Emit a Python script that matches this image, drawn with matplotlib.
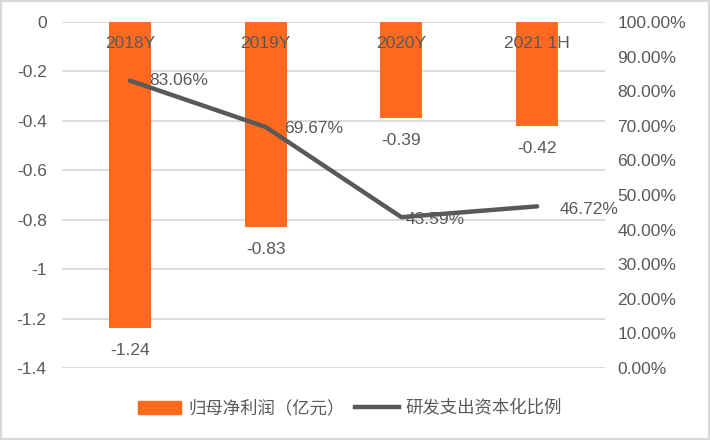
import matplotlib
matplotlib.use("Agg")
import matplotlib.pyplot as plt
from matplotlib.patches import Rectangle
from matplotlib.lines import Line2D

plt.rcParams['font.family'] = ['Liberation Sans', 'Noto Sans CJK SC', 'DejaVu Sans']

categories = ["2018Y", "2019Y", "2020Y", "2021 1H"]
profit = [-1.24, -0.83, -0.39, -0.42]
ratio = [83.06, 69.67, 43.59, 46.72]
left_ticks = [0, -0.2, -0.4, -0.6, -0.8, -1, -1.2, -1.4]
right_ticks = [0, 10, 20, 30, 40, 50, 60, 70, 80, 90, 100]

txt = '#595959'
bar_c = '#FF6A1F'
line_c = '#595959'
grid_c = '#D9D9D9'

fig = plt.figure(figsize=(7.1, 4.4), dpi=100)
ax = fig.add_axes([62/710, 1-368/440, (605-62)/710, (368-22)/440])
x = list(range(len(categories)))
ax.bar(x, profit, width=0.31, color=bar_c, zorder=2)
ax.set_xlim(-0.5, 3.5)
ax.set_ylim(-1.4, 0)
ax.set_yticks(left_ticks)
ax.set_yticklabels([f"{t:g}" for t in left_ticks])
ax.yaxis.grid(True, color=grid_c, linewidth=1.3, zorder=0)
ax.set_axisbelow(True)
ax.set_xticks([])
for s in ax.spines.values():
    s.set_visible(False)
ax.tick_params(axis='y', length=0, labelsize=12.5, colors=txt, pad=11)

for xi, c in zip(x, categories):
    ax.text(xi, -0.085, c, ha='center', va='center', fontsize=12.5, color=txt, zorder=5)
for xi, v in zip(x, profit):
    ax.annotate(f"{v:g}", (xi, v), xytext=(0, -16), textcoords='offset points',
                ha='center', va='center', fontsize=12.5, color=txt)

ax2 = ax.twinx()
ax2.plot(x, ratio, color=line_c, linewidth=3.2, solid_capstyle='round', zorder=3)
ax2.set_ylim(0, 100)
ax2.set_yticks(right_ticks)
ax2.set_yticklabels([f"{t:.2f}%" for t in right_ticks])
for s in ax2.spines.values():
    s.set_visible(False)
ax2.tick_params(axis='y', length=0, labelsize=12.5, colors=txt, pad=9)
offsets = [(14, 0), (13, -1), (3, -2), (16, -2)]
for xi, v, off in zip(x, ratio, offsets):
    ax2.annotate(f"{v:.2f}%", (xi, v), xytext=off, textcoords='offset points',
                 ha='left', va='center', fontsize=12.5, color=txt)

handles = [Rectangle((0, 0), 1, 1, color=bar_c), Line2D([0], [0], color=line_c, linewidth=3.2)]
fig.legend(handles, ["归母净利润（亿元）", "研发支出资本化比例"], loc='center',
           bbox_to_anchor=(350/710, 1-408/440), ncol=2, frameon=False, fontsize=12.5,
           labelcolor=txt, handlelength=2.5, handletextpad=0.4, columnspacing=0.6)

fig.patches.append(Rectangle((0.001, 0.002), 0.997, 0.995, transform=fig.transFigure,
                             fill=False, edgecolor=grid_c, linewidth=1.5))
fig.savefig("out.png", dpi=100)
